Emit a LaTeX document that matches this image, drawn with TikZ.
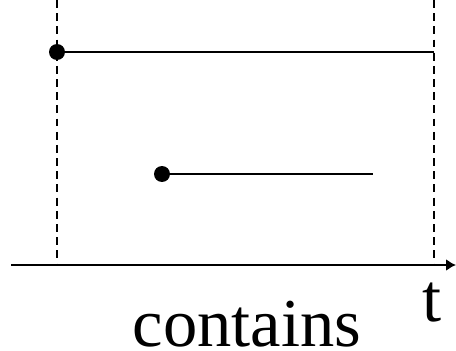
\documentclass[tikz,border=0pt]{standalone}
\usepackage{fontspec}
\setmainfont{Liberation Serif}
\usetikzlibrary{arrows.meta}
\begin{document}
\begin{tikzpicture}[x=0.02cm,y=-0.02cm,>={Latex[length=0.2cm,width=0.24cm]}]
\tikzset{
  bound/.style={draw=black, line width=1pt, dash pattern=on 4.5pt off 3pt},
  interval/.style={draw=black, line width=1.1pt},
  endpt/.style={circle, fill=black, minimum size=0.32cm, inner sep=0pt},
  label/.style={font=\fontsize{39}{44}\selectfont, inner sep=0pt, anchor=base, text depth=0pt}
}
\useasboundingbox (0,0) rectangle (456,351);

% time axis
\coordinate (axstart) at (11,265);
\coordinate (axend) at (456,265);
\draw[interval,->] (axstart) -- (axend);

% bounds of the longer interval
\coordinate (lefttop) at (57,0);
\coordinate (leftbot) at (57,265);
\coordinate (righttop) at (434,0);
\coordinate (rightbot) at (434,265);
\draw[bound] (lefttop) -- (leftbot);
\draw[bound] (righttop) -- (rightbot);

% the two intervals
\node[endpt] (outerstart) at (57,52) {};
\coordinate (outerend) at (434,52);
\draw[interval] (outerstart) -- (outerend);

\node[endpt] (innerstart) at (162,174) {};
\coordinate (innerend) at (373,174);
\draw[interval] (innerstart) -- (innerend);

% labels
\node[label] (tlabel) at (432,321) {t};
\node[label] (relation) at (247,346) {contains};
\end{tikzpicture}
\end{document}
